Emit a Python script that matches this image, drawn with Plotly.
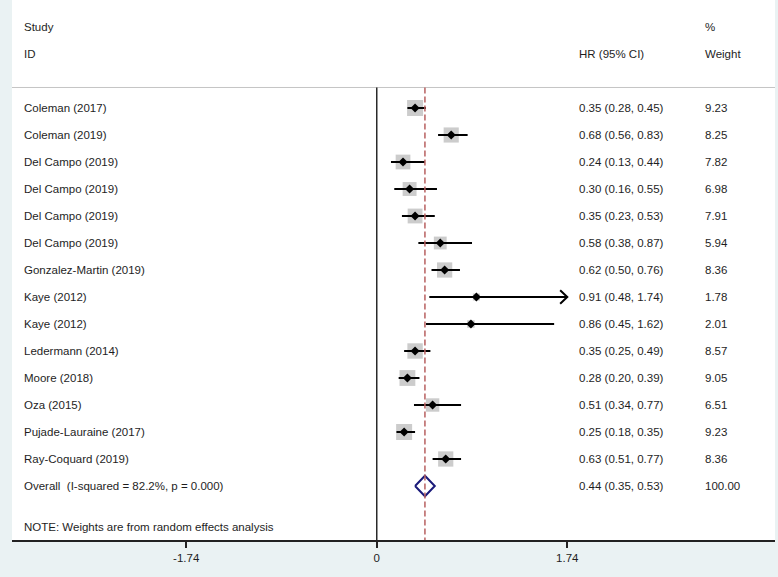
import plotly.graph_objects as go

studies = ["Coleman (2017)", "Coleman (2019)", "Del Campo (2019)", "Del Campo (2019)",
           "Del Campo (2019)", "Del Campo (2019)", "Gonzalez-Martin (2019)", "Kaye (2012)",
           "Kaye (2012)", "Ledermann (2014)", "Moore (2018)", "Oza (2015)",
           "Pujade-Lauraine (2017)", "Ray-Coquard (2019)"]
hr = [0.35, 0.68, 0.24, 0.30, 0.35, 0.58, 0.62, 0.91, 0.86, 0.35, 0.28, 0.51, 0.25, 0.63]
lo = [0.28, 0.56, 0.13, 0.16, 0.23, 0.38, 0.50, 0.48, 0.45, 0.25, 0.20, 0.34, 0.18, 0.51]
hi = [0.45, 0.83, 0.44, 0.55, 0.53, 0.87, 0.76, 1.74, 1.62, 0.49, 0.39, 0.77, 0.35, 0.77]
weights = [9.23, 8.25, 7.82, 6.98, 7.91, 5.94, 8.36, 1.78, 2.01, 8.57, 9.05, 6.51, 9.23, 8.36]

overall_label = "Overall  (I-squared = 82.2%, p = 0.000)"
overall_hr, overall_lo, overall_hi, overall_w = 0.44, 0.35, 0.53, 100.00

tick_vals = [-1.74, 0, 1.74]
tick_text = ["-1.74", "0", "1.74"]
clip_max = 1.74
note = "NOTE: Weights are from random effects analysis"

FONT = "Liberation Sans, Arial, sans-serif"
FS = 11.5
TXT = "#1e1e1e"

n = len(studies)
rows = list(range(n))
ov_row = n

# x placement (data units) of text columns
x_study = -3.24
x_hr = 1.826
x_w = 2.977
x_range = [-3.331, 3.637]
y_range = [16.0, -4.0]

fig = go.Figure()

# reference line at 0 and overall dashed line, header separator
fig.add_shape(type="line", x0=x_range[0], x1=x_range[1], y0=-0.76, y1=-0.76,
              xref="x", yref="y", line=dict(color="#c4c4c4", width=1))
fig.add_shape(type="line", x0=0, x1=0, y0=-0.76, y1=16.0, xref="x", yref="y",
              line=dict(color="#2a2a2a", width=1.5))
fig.add_shape(type="line", x0=overall_hr, x1=overall_hr, y0=-0.76, y1=16.0,
              xref="x", yref="y", line=dict(color="#b86060", width=1.5, dash="6px,3px"))

# weight boxes
fig.add_trace(go.Scatter(
    x=hr, y=rows, mode="markers",
    marker=dict(symbol="square", size=[5.27 * (w ** 0.5) for w in weights],
                color="#b6b6b6", line=dict(width=0)),
    hoverinfo="skip", showlegend=False))

# CI lines
cx, cy = [], []
for i in range(n):
    cx += [lo[i], min(hi[i], clip_max), None]
    cy += [i, i, None]
fig.add_trace(go.Scatter(x=cx, y=cy, mode="lines",
                         line=dict(color="black", width=2),
                         hoverinfo="skip", showlegend=False))

# arrows for clipped CIs
ax, ay = [], []
for i in range(n):
    if hi[i] >= clip_max:
        ax += [clip_max - 0.065, clip_max, clip_max - 0.065, None]
        ay += [i - 0.25, i, i + 0.25, None]
fig.add_trace(go.Scatter(x=ax, y=ay, mode="lines",
                         line=dict(color="black", width=2),
                         hoverinfo="skip", showlegend=False))

# point estimates
fig.add_trace(go.Scatter(x=hr, y=rows, mode="markers",
                         marker=dict(symbol="diamond", size=7, color="black"),
                         hoverinfo="skip", showlegend=False))

# overall diamond
h = 0.38
fig.add_trace(go.Scatter(
    x=[overall_lo, overall_hr, overall_hi, overall_hr, overall_lo],
    y=[ov_row, ov_row - h, ov_row, ov_row + h, ov_row],
    mode="lines", line=dict(color="#1a1a7a", width=2),
    hoverinfo="skip", showlegend=False))

def txt(x, y, s):
    fig.add_annotation(x=x, y=y, xref="x", yref="y", text=s, showarrow=False,
                       xanchor="left", yanchor="middle",
                       font=dict(family=FONT, size=FS, color=TXT))

# headers
txt(x_study, -3, "Study")
txt(x_study, -2, "ID")
txt(x_hr, -2, "HR (95% CI)")
txt(x_w, -3, "%")
txt(x_w, -2, "Weight")

for i in range(n):
    txt(x_study, i, studies[i])
    txt(x_hr, i, f"{hr[i]:.2f} ({lo[i]:.2f}, {hi[i]:.2f})")
    txt(x_w, i, f"{weights[i]:.2f}")

txt(x_study, ov_row, overall_label)
txt(x_hr, ov_row, f"{overall_hr:.2f} ({overall_lo:.2f}, {overall_hi:.2f})")
txt(x_w, ov_row, f"{overall_w:.2f}")
txt(x_study, 15.5, note)

fig.update_layout(
    width=778, height=577,
    margin=dict(l=12, r=3, t=0, b=37),
    paper_bgcolor="#eaf2f3", plot_bgcolor="white",
    xaxis=dict(range=x_range, showgrid=False, zeroline=False,
               showline=True, linecolor="#222222", linewidth=1.5,
               ticks="outside", ticklen=6, tickwidth=1.5, tickcolor="#222222",
               tickvals=tick_vals, ticktext=tick_text,
               tickfont=dict(family=FONT, size=FS, color=TXT), fixedrange=True),
    yaxis=dict(range=y_range, visible=False, showgrid=False, zeroline=False,
               fixedrange=True),
    showlegend=False,
)

fig.write_html("out.html", config={"displayModeBar": False},
               post_script="document.body.style.margin='0';document.body.style.overflow='hidden';")
